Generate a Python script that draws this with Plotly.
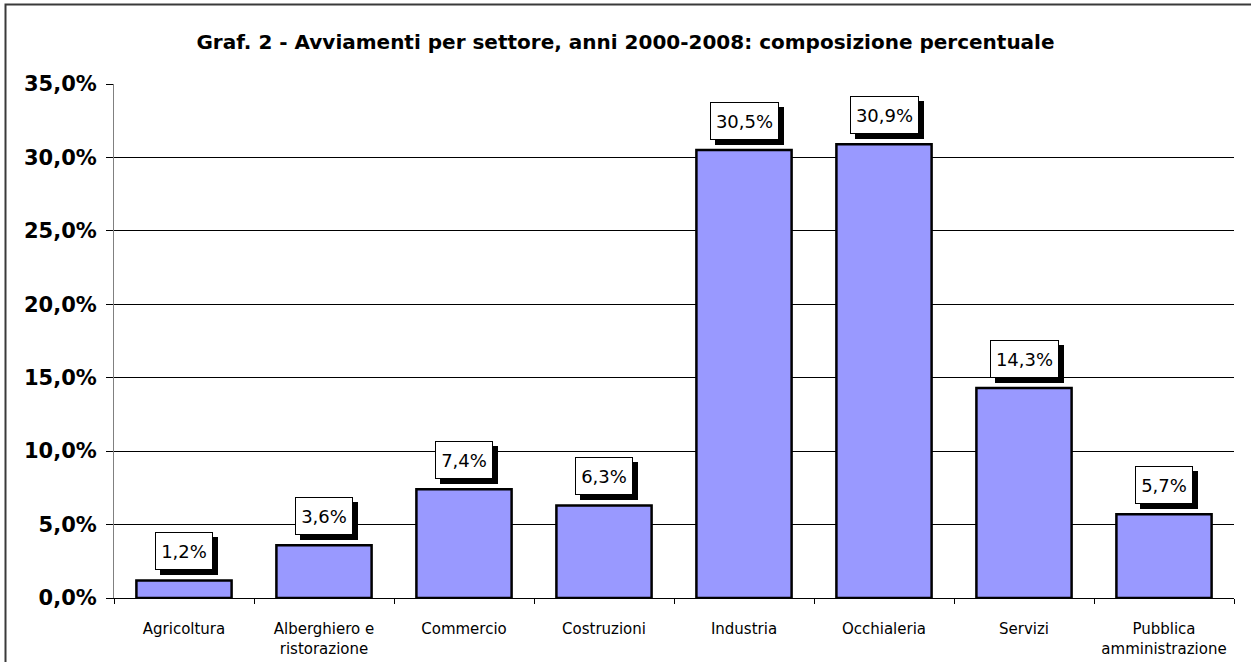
import plotly.graph_objects as go

# Sector shares of job starts, 2000-2008
settori = ["Agricoltura", "Alberghiero e ristorazione", "Commercio", "Costruzioni",
           "Industria", "Occhialeria", "Servizi", "Pubblica amministrazione"]
etichette_x = ["Agricoltura", "Alberghiero e<br>ristorazione", "Commercio", "Costruzioni",
               "Industria", "Occhialeria", "Servizi", "Pubblica<br>amministrazione"]
quote = [1.2, 3.6, 7.4, 6.3, 30.5, 30.9, 14.3, 5.7]
tick_y = [0, 5, 10, 15, 20, 25, 30, 35]
tick_y_text = ["0,0%", "5,0%", "10,0%", "15,0%", "20,0%", "25,0%", "30,0%", "35,0%"]

W, H = 1251, 662
ML, MR, MT, MB = 114, 17, 84, 64
pw = W - ML - MR
ph = H - MT - MB

FONT = "DejaVu Sans"
LABEL_SIZE = 18

fig = go.Figure()
fig.add_trace(go.Bar(
    x=settori, y=quote,
    marker=dict(color="#9999FF", line=dict(color="black", width=2.5)),
    hoverinfo="skip",
))


def fmt(v):
    return f"{v:.1f}".replace(".", ",") + "%"


# approximate advance widths (em) of the label glyphs
GLYPH_EM = {",": 0.318, "%": 0.95}


def text_width(s):
    return sum(GLYPH_EM.get(c, 0.636) for c in s) * LABEL_SIZE


annotations = []
for cat, v in zip(settori, quote):
    label = fmt(v)
    w = round(text_width(label)) + 2
    # drop shadow behind each value box
    annotations.append(dict(
        x=cat, y=v, xref="x", yref="y", text=" ", showarrow=False,
        yanchor="bottom", xshift=5, yshift=5, width=w, height=28,
        font=dict(family=FONT, size=LABEL_SIZE, color="black"),
        bgcolor="black", bordercolor="black", borderwidth=1, borderpad=4,
    ))
    annotations.append(dict(
        x=cat, y=v, xref="x", yref="y", text=label, showarrow=False,
        yanchor="bottom", yshift=10, width=w, height=28,
        font=dict(family=FONT, size=LABEL_SIZE, color="black"),
        bgcolor="white", bordercolor="black", borderwidth=1, borderpad=4,
    ))

# outer chart frame
shapes = [dict(
    type="rect", xref="paper", yref="paper",
    x0=(5.5 - ML) / pw, x1=(W + 10 - ML) / pw,
    y0=(MT + ph - (H + 10)) / ph, y1=(MT + ph - 4.5) / ph,
    line=dict(color="#3a3a3a", width=2), fillcolor="rgba(0,0,0,0)", layer="below",
)]

fig.update_layout(
    width=W, height=H,
    margin=dict(l=ML, r=MR, t=MT, b=MB),
    paper_bgcolor="white", plot_bgcolor="white",
    showlegend=False,
    bargap=0.32,
    title=dict(
        text="<b>Graf. 2 - Avviamenti per settore, anni 2000-2008: composizione percentuale</b>",
        x=0.5, xref="container", xanchor="center",
        y=1 - 42 / H, yref="container", yanchor="middle",
        font=dict(family=FONT, size=20, color="black"),
    ),
    xaxis=dict(
        type="category", tickvals=settori, ticktext=etichette_x,
        tickson="boundaries", ticks="outside", ticklen=5, tickcolor="black",
        ticklabelstandoff=17, automargin=False,
        showline=True, linecolor="black", linewidth=1,
        showgrid=False, zeroline=False,
        tickfont=dict(family=FONT, size=15, color="black"),
    ),
    yaxis=dict(
        range=[0, 35], tickvals=tick_y, ticktext=tick_y_text,
        ticks="outside", ticklen=7, tickcolor="black",
        ticklabelstandoff=5, automargin=False,
        showgrid=True, gridcolor="black", gridwidth=1,
        showline=True, linecolor="#808080", linewidth=1,
        zeroline=False,
        tickfont=dict(family=FONT, size=21, color="black", weight="bold"),
    ),
    annotations=annotations,
    shapes=shapes,
)

fig.write_html("out.html")
